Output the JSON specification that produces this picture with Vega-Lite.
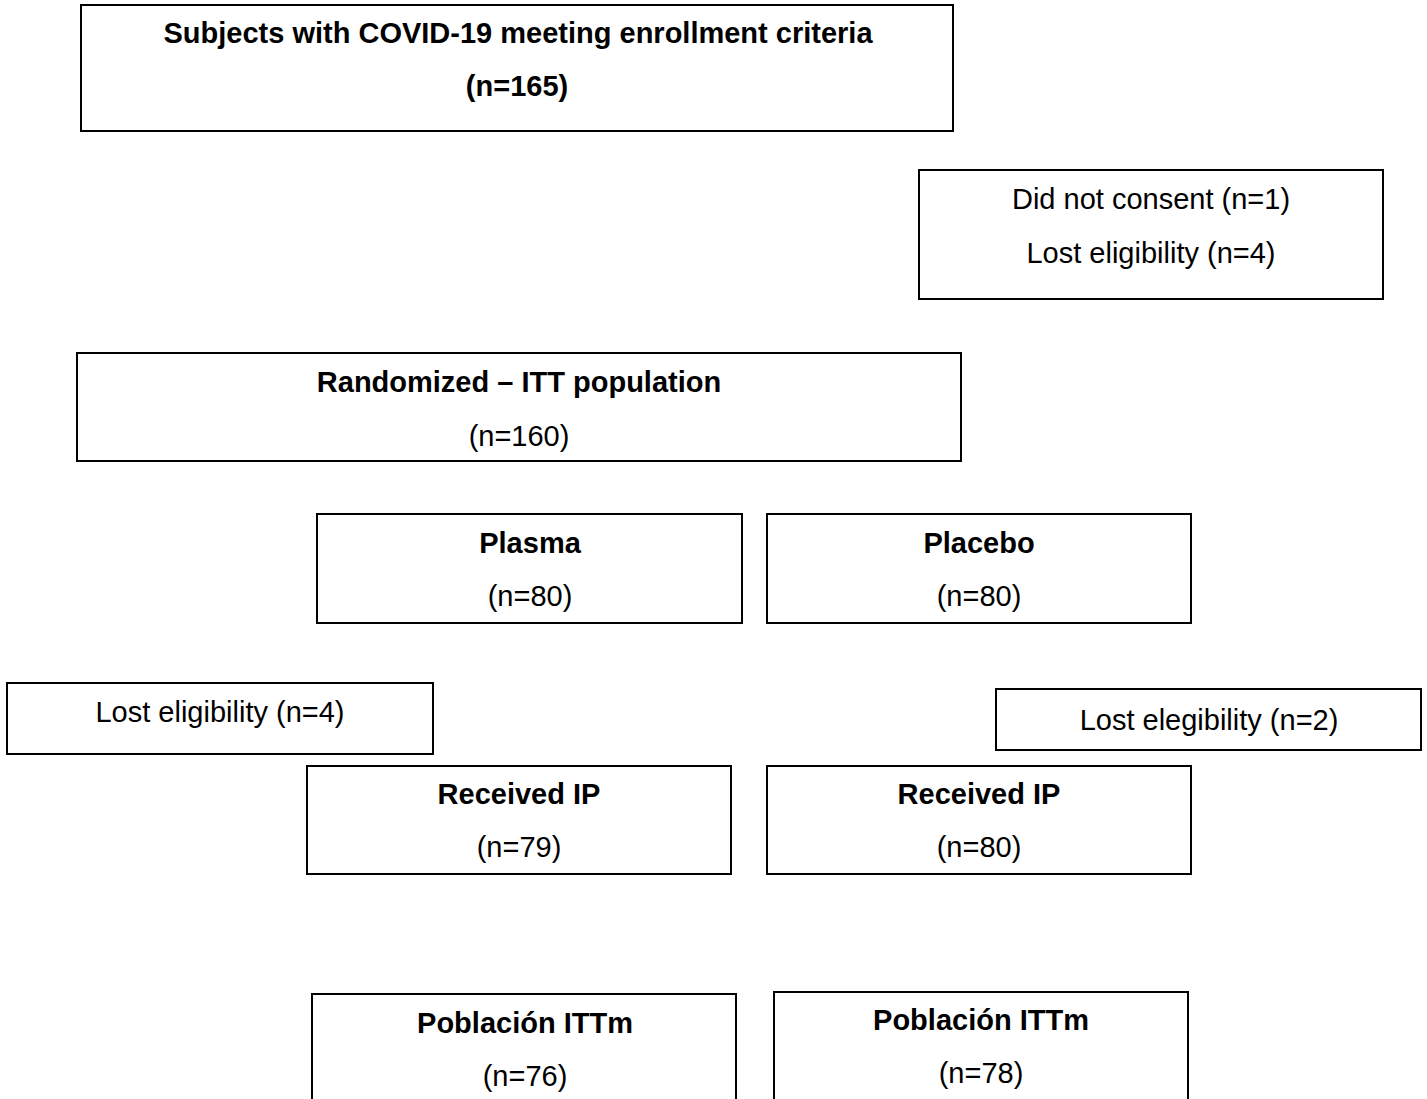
{
  "$schema": "https://vega.github.io/schema/vega-lite/v6.json",
  "width": 1427,
  "height": 1099,
  "padding": 0,
  "autosize": {"type": "fit", "contains": "padding"},
  "background": "white",
  "config": {"view": {"stroke": null}},
  "datasets": {
    "boxes": [
      {"box": "Enrolled", "left": 81, "right": 953, "top": 5, "bottom": 131},
      {"box": "Excluded", "left": 919, "right": 1383, "top": 170, "bottom": 299},
      {"box": "Randomized", "left": 77, "right": 961, "top": 353, "bottom": 461},
      {"box": "Plasma", "left": 317, "right": 742, "top": 514, "bottom": 623},
      {"box": "Placebo", "left": 767, "right": 1191, "top": 514, "bottom": 623},
      {"box": "Lost plasma", "left": 7, "right": 433, "top": 683, "bottom": 754},
      {"box": "Lost placebo", "left": 996, "right": 1421, "top": 689, "bottom": 750},
      {"box": "Received plasma", "left": 307, "right": 731, "top": 766, "bottom": 874},
      {"box": "Received placebo", "left": 767, "right": 1191, "top": 766, "bottom": 874},
      {"box": "ITTm plasma", "left": 312, "right": 736, "top": 994, "bottom": 1115},
      {"box": "ITTm placebo", "left": 774, "right": 1188, "top": 992, "bottom": 1115}
    ],
    "labels": [
      {"label": "Subjects with COVID-19 meeting enrollment criteria", "cx": 518, "base": 43, "bold": true},
      {"label": "(n=165)", "cx": 517, "base": 96, "bold": true},
      {"label": "Did not consent (n=1)", "cx": 1151, "base": 209, "bold": false},
      {"label": "Lost eligibility (n=4)", "cx": 1151, "base": 263, "bold": false},
      {"label": "Randomized – ITT population", "cx": 519, "base": 392, "bold": true},
      {"label": "(n=160)", "cx": 519, "base": 446, "bold": false},
      {"label": "Plasma", "cx": 530, "base": 553, "bold": true},
      {"label": "(n=80)", "cx": 530, "base": 606, "bold": false},
      {"label": "Placebo", "cx": 979, "base": 553, "bold": true},
      {"label": "(n=80)", "cx": 979, "base": 606, "bold": false},
      {"label": "Lost eligibility (n=4)", "cx": 220, "base": 722, "bold": false},
      {"label": "Lost elegibility (n=2)", "cx": 1209, "base": 730, "bold": false},
      {"label": "Received IP", "cx": 519, "base": 804, "bold": true},
      {"label": "(n=79)", "cx": 519, "base": 857, "bold": false},
      {"label": "Received IP", "cx": 979, "base": 804, "bold": true},
      {"label": "(n=80)", "cx": 979, "base": 857, "bold": false},
      {"label": "Población ITTm", "cx": 525, "base": 1033, "bold": true},
      {"label": "(n=76)", "cx": 525, "base": 1086, "bold": false},
      {"label": "Población ITTm", "cx": 981, "base": 1030, "bold": true},
      {"label": "(n=78)", "cx": 981, "base": 1083, "bold": false}
    ]
  },
  "layer": [
    {
      "data": {"name": "boxes"},
      "mark": {"type": "rect", "fill": "white", "stroke": "black", "strokeWidth": 2, "clip": true},
      "encoding": {
        "x": {"field": "left", "type": "quantitative", "scale": {"domain": [0, 1427], "nice": false, "zero": false}, "axis": null},
        "x2": {"field": "right"},
        "y": {"field": "top", "type": "quantitative", "scale": {"domain": [0, 1099], "nice": false, "zero": false, "reverse": true}, "axis": null},
        "y2": {"field": "bottom"}
      }
    },
    {
      "data": {"name": "labels"},
      "transform": [{"filter": "datum.bold"}],
      "mark": {"type": "text", "font": "Liberation Sans", "fontSize": 29, "fontWeight": "bold", "align": "center", "baseline": "alphabetic", "color": "black"},
      "encoding": {
        "x": {"field": "cx", "type": "quantitative", "axis": null},
        "y": {"field": "base", "type": "quantitative", "axis": null},
        "text": {"field": "label"}
      }
    },
    {
      "data": {"name": "labels"},
      "transform": [{"filter": "!datum.bold"}],
      "mark": {"type": "text", "font": "Liberation Sans", "fontSize": 29, "align": "center", "baseline": "alphabetic", "color": "black"},
      "encoding": {
        "x": {"field": "cx", "type": "quantitative", "axis": null},
        "y": {"field": "base", "type": "quantitative", "axis": null},
        "text": {"field": "label"}
      }
    }
  ]
}
